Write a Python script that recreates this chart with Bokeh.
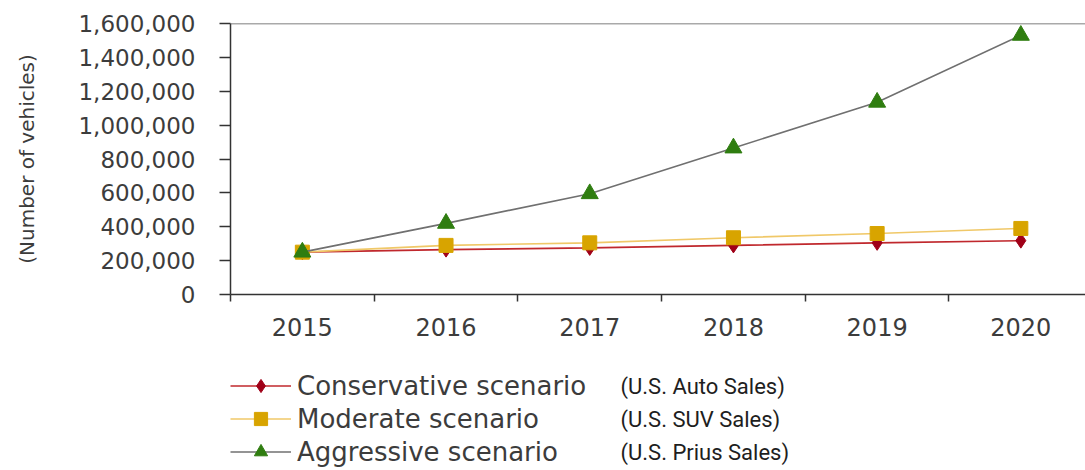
from bokeh.plotting import figure
from bokeh.layouts import column
from bokeh.models import Range1d, FixedTicker, NumeralTickFormatter, Legend, LegendItem, Label, Span
from bokeh.embed import file_html
from bokeh.resources import INLINE

# ---- data ----
years = ["2015", "2016", "2017", "2018", "2019", "2020"]
conservative = [250000, 265000, 275000, 290000, 305000, 318000]
moderate = [250000, 290000, 305000, 335000, 360000, 390000]
aggressive = [250000, 420000, 595000, 865000, 1135000, 1530000]
series_names = ["Conservative scenario", "Moderate scenario", "Aggressive scenario"]
notes = ["(U.S. Auto Sales)", "(U.S. SUV Sales)", "(U.S. Prius Sales)"]
y_ticks = [0, 200000, 400000, 600000, 800000, 1000000, 1200000, 1400000, 1600000]
y_label = "(Number of vehicles)"

x = [int(v) for v in years]

TXT = "#3c3c3c"
FONT = "DejaVu Sans"
W = 1085
LEFT = 230

p = figure(width=W, height=345, output_backend="svg", toolbar_location=None,
           x_range=Range1d(x[0] - 0.5, x[0] - 0.5 + 5.95), y_range=Range1d(0, y_ticks[-1]),
           min_border_left=LEFT, min_border_top=23, min_border_bottom=51, min_border_right=0)
p.outline_line_color = None
p.xgrid.visible = False
p.ygrid.visible = False

# top border line
p.add_layout(Span(location=y_ticks[-1], dimension="width", line_color="#555555", line_width=1.5))

# x axis
xa = p.xaxis[0]
xa.ticker = FixedTicker(ticks=x, minor_ticks=[v - 0.5 for v in x] + [x[-1] + 0.5])
xa.major_label_overrides = {v: s for v, s in zip(x, years)}
xa.major_tick_out = 0
xa.major_tick_in = 0
xa.minor_tick_out = 7
xa.minor_tick_in = 0
xa.minor_tick_line_color = "#333333"
xa.minor_tick_line_width = 1.5
xa.axis_line_color = "#333333"
xa.axis_line_width = 1.5
xa.major_label_standoff = 16
xa.major_label_text_font = FONT
xa.major_label_text_font_size = "24px"
xa.major_label_text_color = TXT

# y axis
ya = p.yaxis[0]
ya.ticker = FixedTicker(ticks=y_ticks, minor_ticks=[])
ya.formatter = NumeralTickFormatter(format="0,0")
ya.major_tick_out = 11
ya.major_tick_in = 0
ya.major_tick_line_color = "#333333"
ya.major_tick_line_width = 1.5
ya.axis_line_color = "#333333"
ya.axis_line_width = 1.5
ya.major_label_standoff = 24
ya.major_label_text_font = FONT
ya.major_label_text_font_size = "23px"
ya.major_label_text_color = TXT
ya.axis_label = y_label
ya.axis_label_text_font = FONT
ya.axis_label_text_font_size = "20px"
ya.axis_label_text_font_style = "normal"
ya.axis_label_text_color = TXT
ya.axis_label_standoff = 36

styles = [
    dict(data=conservative, line="#c0282d", marker="diamond", size=15, fill="#a00018"),
    dict(data=moderate, line="#f0c868", marker="square", size=14, fill="#d8a400"),
    dict(data=aggressive, line="#707070", marker="triangle", size=17, fill="#2f7d10"),
]

for st in styles:
    p.line(x, st["data"], line_color=st["line"], line_width=1.6)
    p.scatter(x, st["data"], marker=st["marker"], size=st["size"],
              fill_color=st["fill"], line_color=st["fill"])

# ---- legend strip below the chart (frame aligned with the chart's frame) ----
LH = 125
q = figure(width=W, height=LH, output_backend="svg", toolbar_location=None,
           x_range=Range1d(0, W - LEFT), y_range=Range1d(0, LH),
           x_axis_location=None, y_axis_location=None,
           min_border_left=LEFT, min_border_right=0, min_border_top=0, min_border_bottom=0)
q.outline_line_color = None
q.xgrid.visible = False
q.ygrid.visible = False

items = []
for name, st in zip(series_names, styles):
    # first point of each series (outside this strip's view) gives the legend its sample style
    lr = q.line(x[:1], st["data"][:1], line_color=st["line"], line_width=1.6)
    sr = q.scatter(x[:1], st["data"][:1], marker=st["marker"],
                   fill_color=st["fill"], line_color=st["fill"])
    items.append(LegendItem(label=name, renderers=[lr, sr]))

legend = Legend(items=items, location=(0, 2), orientation="vertical",
                glyph_width=61, glyph_height=33, label_height=33, label_standoff=6,
                spacing=0, padding=0, margin=0, border_line_color=None,
                background_fill_alpha=0, label_text_font=FONT,
                label_text_font_size="26px", label_text_color=TXT)
q.add_layout(legend)

for i, note in enumerate(notes):
    q.add_layout(Label(x=390, y=LH - 41 - 33 * i, x_units="screen", y_units="screen",
                       text=note, text_baseline="middle", text_font="Roboto",
                       text_font_size="22px", text_color="#1e1e1e"))

layout = column(p, q, spacing=0)
open("out.html", "w").write(file_html(layout, INLINE))
